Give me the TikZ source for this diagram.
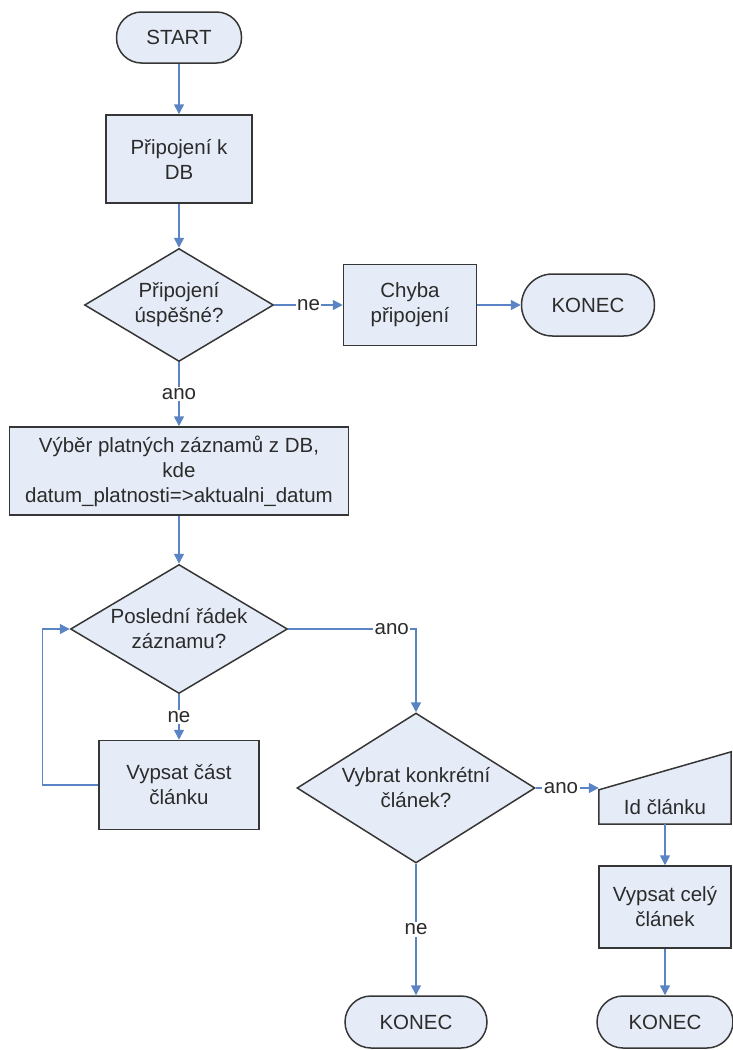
\documentclass[tikz,border=0pt]{standalone}
\usepackage{fontspec}
\setmainfont{Liberation Sans}
\usetikzlibrary{shapes.geometric,arrows.meta,calc,backgrounds}
\definecolor{boxfill}{HTML}{E6ECF7}
\definecolor{boxline}{HTML}{363636}
\definecolor{flow}{HTML}{5B84C4}
\definecolor{ink}{HTML}{2B2B2B}
\begin{document}
\begin{tikzpicture}[x=1pt,y=-1pt,
  every node/.style={font=\fontsize{20.5}{25}\selectfont, text=ink, align=center},
  shapebase/.style={draw=boxline, fill=boxfill, line width=1.5pt, inner sep=0pt},
  terminal/.style={shapebase, rectangle, rounded corners=#1},
  procbox/.style={shapebase, rectangle},
  decision/.style={shapebase, diamond},
  arr/.style={draw=flow, line width=1.5pt, -{Triangle[length=10pt,width=10pt]}},
  lbl/.style={fill=white, inner sep=1.5pt}
]
\useasboundingbox (0,0) rectangle (732,1050);

% main column
\node[terminal=25pt, minimum width=125pt, minimum height=51pt] (start) at (179,37.5) {START};
\node[procbox, minimum width=146pt, minimum height=88pt] (conn) at (179,159) {Připojení k\\DB};
\node[decision, minimum width=189pt, minimum height=113pt,
      label={[align=center]center:Připojení\\úspěšné?}] (d1) at (179,305) {};
\node[procbox, minimum width=133pt, minimum height=81pt] (err) at (410,305) {Chyba\\připojení};
\node[terminal=31pt, minimum width=133pt, minimum height=62pt] (end1) at (588,305) {KONEC};

\node[procbox, minimum width=339pt, minimum height=88pt] (sel) at (179,471)
  {Výběr platných záznamů z DB,\\kde\\datum\_platnosti=>aktualni\_datum};

\node[decision, minimum width=217pt, minimum height=129pt,
      label={[align=center]center:Poslední řádek\\záznamu?}] (d2) at (179,629) {};
\node[procbox, minimum width=160pt, minimum height=89pt] (part) at (179,785) {Vypsat část\\článku};

% right branch
\node[decision, minimum width=238pt, minimum height=150pt,
      label={[align=center]center:Vybrat konkrétní\\článek?}] (d3) at (416,788) {};
\node[terminal=26pt, minimum width=142pt, minimum height=52pt] (end2) at (416,1022) {KONEC};

% manual input: lower rectangle part holds the text, slanted top drawn behind it
\node[minimum width=132pt, minimum height=34pt, inner sep=0pt] (idc) at (665,807) {Id článku};
\begin{scope}[on background layer]
  \path[shapebase] (idc.south west) -- (idc.north west)
    -- ($(idc.north east)+(0,-38)$) -- (idc.south east) -- cycle;
\end{scope}
\node[procbox, minimum width=132pt, minimum height=82pt] (full) at (665,907) {Vypsat celý\\článek};
\node[terminal=26pt, minimum width=136pt, minimum height=52pt] (end3) at (665,1022) {KONEC};

% connectors
\draw[arr] (start) -- (conn);
\draw[arr] (conn) -- (d1.north);
\draw[arr] (d1.east) -- node[lbl]{ne} (err.west);
\draw[arr] (err) -- (end1);
\draw[arr] (d1.south) -- node[lbl]{ano} (sel.north);
\draw[arr] (sel) -- (d2.north);
\draw[arr] (d2.south) -- node[lbl]{ne} (part.north);
\draw[arr] (part.west) -- ++(-56,0) |- (d2.west);
\draw[arr] (d2.east) -| node[lbl, pos=0.405]{ano} (d3.north);
\draw[arr] (d3.south) -- node[lbl]{ne} (end2.north);
\draw[arr] (d3.east) -- node[lbl, pos=0.4]{ano} (d3.east -| idc.west);
\draw[arr] (idc.south) -- (full.north);
\draw[arr] (full.south) -- (end3.north);
\end{tikzpicture}
\end{document}
